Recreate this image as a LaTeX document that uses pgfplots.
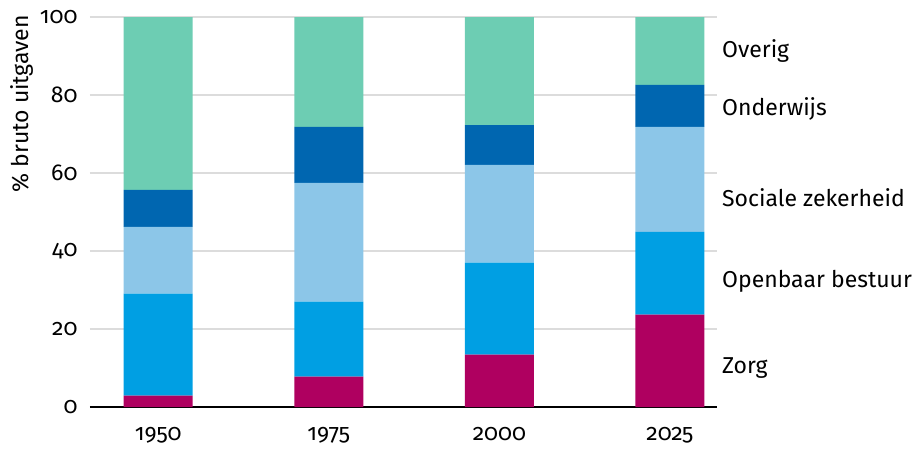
\documentclass[border=0pt]{standalone}
\usepackage{pgfplots}
\pgfplotsset{compat=1.18}
\usepackage{fontspec}
\setmainfont[Numbers=OldStyle]{Fira Sans}
\usetikzlibrary{calc}
\definecolor{cOverig}{HTML}{6DCDB3}
\definecolor{cOnder}{HTML}{0066B0}
\definecolor{cSoc}{HTML}{8CC6E8}
\definecolor{cOpen}{HTML}{009FE3}
\definecolor{cZorg}{HTML}{AF0060}
\definecolor{cGrid}{HTML}{DCDCDC}
\newcommand{\bigf}{\fontsize{23}{27}\selectfont}
\begin{document}
\begin{tikzpicture}
\begin{axis}[
  name=ax,
  scale only axis,
  width=627pt, height=390pt,
  xmin=-0.40, xmax=3.276,
  ymin=0, ymax=100,
  ybar stacked,
  bar width=69pt,
  xtick={0,1,2,3},
  xticklabels={1950,1975,2000,2025},
  ytick={0,20,40,60,80,100},
  axis x line*=bottom,
  axis y line*=left,
  y axis line style={draw=none},
  x axis line style={black, line width=2pt, -},
  major tick length=0pt,
  ymajorgrids,
  grid style={cGrid, line width=1.5pt},
  /pgf/number format/assume math mode=true,
  xticklabel style={font=\bigf, yshift=-17pt},
  yticklabel style={font=\bigf, xshift=-9pt},
  clip=false,
]
\addplot[fill=cZorg, draw=none] coordinates {(0,2.9) (1,7.8) (2,13.4) (3,23.7)};
\addplot[fill=cOpen, draw=none] coordinates {(0,26.2) (1,19.2) (2,23.6) (3,21.2)};
\addplot[fill=cSoc, draw=none] coordinates {(0,17.1) (1,30.5) (2,25.1) (3,26.9)};
\addplot[fill=cOnder, draw=none] coordinates {(0,9.5) (1,14.3) (2,10.2) (3,10.8)};
\addplot[fill=cOverig, draw=none] coordinates {(0,44.3) (1,28.2) (2,27.7) (3,17.4)};
\node[anchor=west, font=\bigf, inner sep=0pt, xshift=5pt] at (rel axis cs:1,0.913) {Overig};
\node[anchor=west, font=\bigf, inner sep=0pt, xshift=5pt] at (rel axis cs:1,0.764) {Onderwijs};
\node[anchor=west, font=\bigf, inner sep=0pt, xshift=5pt] at (rel axis cs:1,0.536) {Sociale zekerheid};
\node[anchor=west, font=\bigf, inner sep=0pt, xshift=5pt] at (rel axis cs:1,0.322) {Openbaar bestuur};
\node[anchor=west, font=\bigf, inner sep=0pt, xshift=5pt] at (rel axis cs:1,0.101) {Zorg};
\node[xshift=-68pt, yshift=2pt, rotate=90, anchor=east, font=\bigf, inner sep=0pt] at (rel axis cs:0,1) {\% bruto uitgaven};
\end{axis}
\pgfresetboundingbox
\path ($(ax.south west)+(-90pt,-41pt)$) rectangle ($(ax.north east)+(198pt,17pt)$);
\end{tikzpicture}
\end{document}
